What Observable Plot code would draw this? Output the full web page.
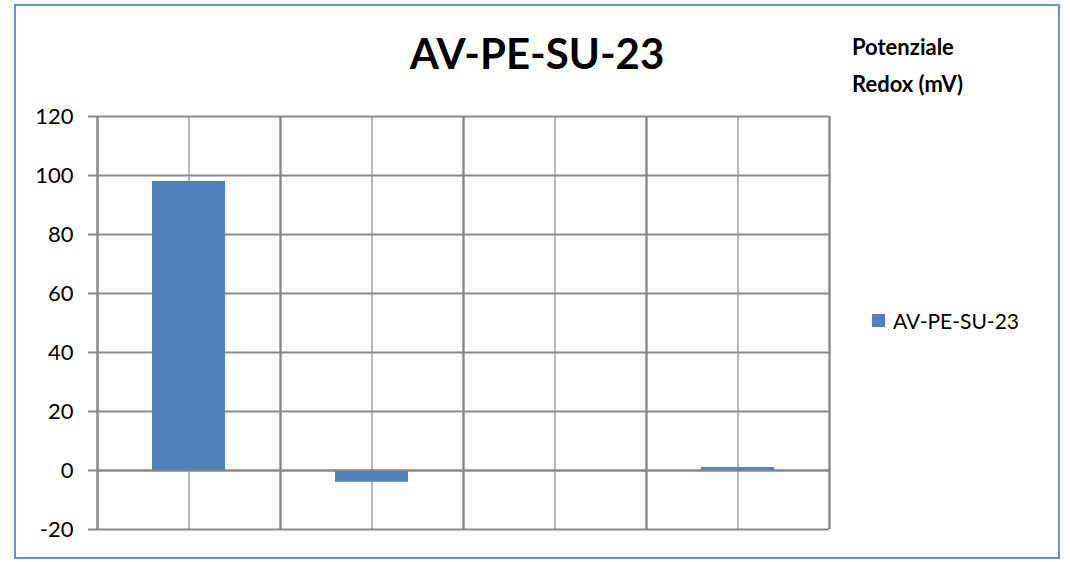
<!DOCTYPE html>
<html><head><meta charset="utf-8">
<script src="https://cdn.jsdelivr.net/npm/d3@7"></script>
<script src="https://cdn.jsdelivr.net/npm/@observablehq/plot@0.6"></script>
<style>
html,body{margin:0;padding:0;background:#fff;}
#wrap{position:relative;width:1070px;height:562px;font-family:Lato,"Open Sans",sans-serif;}
#frame{position:absolute;left:14px;top:4px;width:1042px;height:551px;border:2px solid #6a93c9;box-sizing:content-box;}
#title{position:absolute;left:0;width:1074px;top:28px;text-align:center;font-weight:bold;font-size:42px;color:#000;}
#ytitle{position:absolute;left:852px;top:28px;font-weight:bold;font-size:22px;line-height:37px;color:#000;}
#legend{position:absolute;left:872px;top:308px;font-size:21px;color:#000;display:flex;align-items:center;}
#legend span.sw{display:inline-block;width:13px;height:13px;background:#4f81bd;margin-right:8px;}
#chart{position:absolute;left:0;top:0;}
</style></head>
<body><div id="wrap">
<div id="frame"></div>
<div id="title"></div>
<div id="ytitle"></div>
<div id="legend"><span class="sw"></span><span id="legtxt"></span></div>
<div id="chart"></div>
</div>
<script>
const chartTitle = "AV-PE-SU-23";
const axisTitle = ["Potenziale", "Redox (mV)"];
const seriesName = "AV-PE-SU-23";
const categories = [0, 1, 2, 3];
const values = [98, -4, 0, 1];
const yTicks = [-20, 0, 20, 40, 60, 80, 100, 120];

document.getElementById("title").textContent = chartTitle;
document.getElementById("ytitle").innerHTML = axisTitle.join("<br>");
document.getElementById("legtxt").textContent = seriesName;

const data = categories.map((c, i) => ({c, v: values[i]}));
const n = categories.length;
const centers = categories.map(c => c + 0.5);
const bounds = d3.range(0, n + 1);

const chart = Plot.plot({
  width: 1070, height: 562,
  marginLeft: 97, marginRight: 241, marginTop: 116, marginBottom: 33,
  style: {fontFamily: "Lato, 'Open Sans', sans-serif", fontSize: "22px", color: "#000", background: "transparent"},
  x: {type: "linear", domain: [0, n], axis: null},
  y: {domain: [-20, 120], ticks: yTicks, label: null},
  marks: [
    Plot.ruleX(centers, {stroke: "#b8b8b8", strokeWidth: 2}),
    Plot.ruleX(bounds.slice(1), {stroke: "#b4b4b4", strokeWidth: 2}),
    Plot.ruleY(yTicks, {stroke: "#8a8a8a", strokeWidth: 2}),
    Plot.rectY(data, {x1: d => d.c, x2: d => d.c + 1, y1: 0, y2: "v", fill: "#4f81bd", insetLeft: 55, insetRight: 55}),
    Plot.ruleY([0], {stroke: "#868686", strokeWidth: 2}),
    Plot.tickX(bounds, {x: d => d, y1: 0, y2: -2, stroke: "#868686", strokeWidth: 2}),
    Plot.ruleX([0], {stroke: "#868686", strokeWidth: 2}),
    Plot.axisY({ticks: yTicks, tickSize: 9, tickPadding: 15, stroke: "#868686", strokeWidth: 2, label: null, fontSize: 22, fill: "#000", tickFormat: d => String(d)})
  ]
});
document.getElementById("chart").appendChild(chart);
</script>
</body></html>
